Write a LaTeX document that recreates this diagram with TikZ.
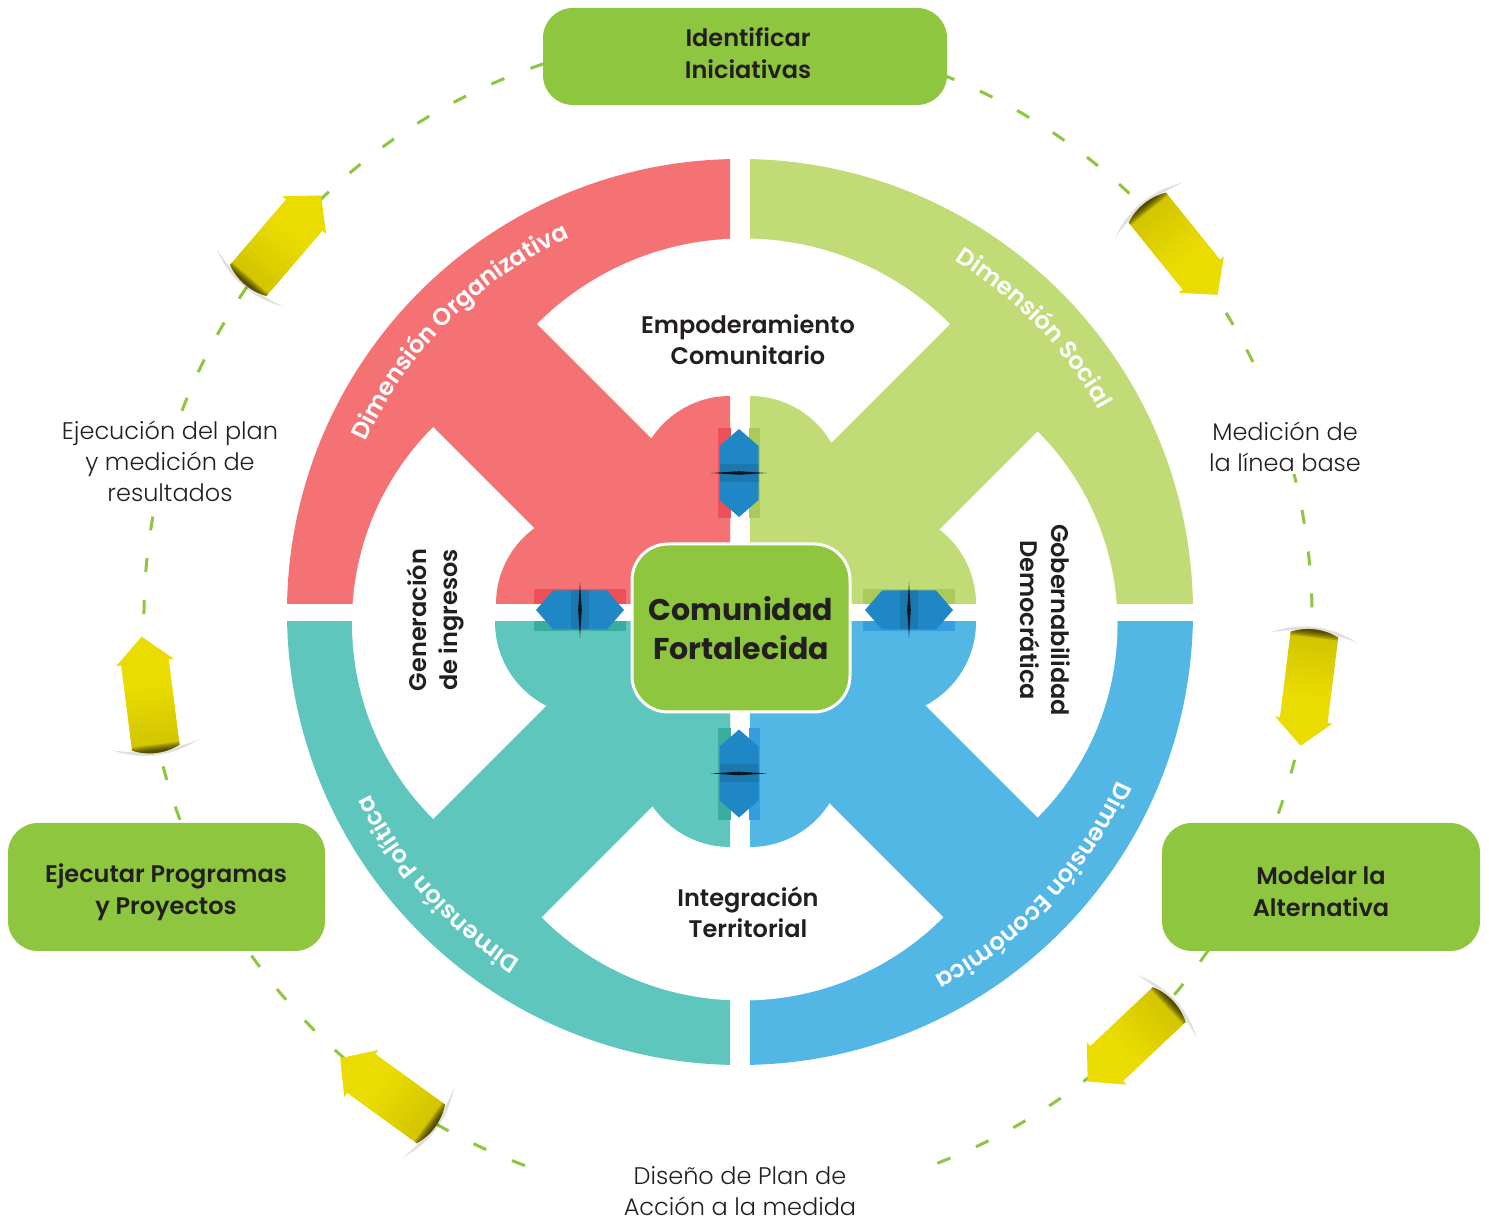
\documentclass[tikz,border=0pt]{standalone}
\usepackage{fontspec}
\setmainfont{Poppins}
\IfFontExistsTF{Poppins Light}{\newfontfamily\lightfont{Poppins Light}}{\newfontfamily\lightfont{Poppins}}
\IfFontExistsTF{Poppins SemiBold}{\newfontfamily\semifont{Poppins SemiBold}}{\newcommand\semifont{\bfseries}}
\usetikzlibrary{decorations.text}
\definecolor{cred}{RGB}{244,114,116}
\definecolor{cgrl}{RGB}{193,219,118}
\definecolor{cteal}{RGB}{95,198,190}
\definecolor{cblue}{RGB}{83,183,230}
\definecolor{cbox}{RGB}{143,198,63}
\definecolor{cyel}{RGB}{234,220,0}
\definecolor{cdarr}{RGB}{31,135,197}
\definecolor{ctext}{RGB}{35,31,32}
\definecolor{cdash}{RGB}{141,198,63}
\definecolor{ovred}{RGB}{238,80,90}
\definecolor{ovgrl}{RGB}{170,203,92}
\definecolor{ovteal}{RGB}{59,172,160}
\definecolor{ovblue}{RGB}{55,158,222}
\tikzset{
  dashring/.style={draw=cdash, line width=3pt, dash pattern=on 14pt off 28pt},
  gbox/.style={fill=cbox, rounded corners=30pt, text=ctext, align=center,
    font=\semifont\fontsize{24}{32}\selectfont},
  inlabel/.style={text=ctext, align=center, font=\semifont\fontsize{24}{31}\selectfont},
  outlabel/.style={text=ctext, align=center, fill=white, inner sep=2pt, font=\lightfont\fontsize{24}{31}\selectfont},
  ringtext/.style={decorate, decoration={text along path, text align=center, text color=white,
    text={|\semifont\fontsize{24}{24}\selectfont|#1}}}
}
\newcommand\yarrow[1]{%
\begin{scope}[shift={(728,606)}, rotate=#1, shift={(584,0)}, rotate=-90]
  \fill[black, opacity=0.12] (-53,-44) .. controls (-67,-15) and (-67,15) .. (-53,44)
     .. controls (-61,15) and (-61,-15) .. (-53,-44) -- cycle;
  \begin{scope}
    \clip (-56,-24) -- (30,-24) -- (30,-29) -- (56,0) -- (30,29) -- (30,24) -- (-56,24)
      .. controls (-63,8) and (-63,-8) .. (-56,-24) -- cycle;
    \fill[cyel] (-70,-40) rectangle (70,40);
    \foreach \k in {1,...,12} {\fill[black, opacity=0.008] (-70,-40) rectangle ({-56+\k*5},40);}
    \foreach \k in {1,...,5} {\fill[black, opacity=0.16] (-70,-40) rectangle ({-60+\k*1.4},40);}
  \end{scope}
\end{scope}}
\newcommand\dblarr[2]{%
\begin{scope}[shift={#1}, rotate=#2]
  \fill[cdarr] (-44,0) -- (-27,19.5) -- (27,19.5) -- (44,0) -- (27,-19.5) -- (-27,-19.5) -- cycle;
  \fill[black, opacity=0.10] (-9,-19.5) rectangle (9,19.5);
  \fill[black, opacity=0.8] (0,-28) -- (1.8,0) -- (0,28) -- (-1.8,0) -- cycle;
\end{scope}}
\begin{document}
\begin{tikzpicture}[x=1pt,y=1pt]
\useasboundingbox (0,0) rectangle (1489,1224);
\fill[white] (0,0) rectangle (1489,1224);
\coordinate (O) at (740,612);
\coordinate (C) at (728,606);

% dashed cycle ring
\draw[dashring] ([shift={(26:584)}]C) arc[start angle=26,end angle=160,radius=584];
\draw[dashring] ([shift={(170:584)}]C) arc[start angle=170,end angle=251,radius=584];
\draw[dashring] ([shift={(291:584)}]C) arc[start angle=291,end angle=375,radius=584];

% quarter discs
\begin{scope}
  \clip (280,620) rectangle (730,1070);
  \fill[cred] (O) circle (453);
\end{scope}
\begin{scope}
  \clip (750,620) rectangle (1200,1070);
  \fill[cgrl] (O) circle (453);
\end{scope}
\begin{scope}
  \clip (280,150) rectangle (730,602);
  \fill[cteal] (O) circle (453);
\end{scope}
\begin{scope}
  \clip (750,150) rectangle (1200,602);
  \fill[cblue] (O) circle (453);
\end{scope}

% white wedges between the arms
\fill[white] (743.5,693.5) -- ++(45:292) arc[start angle=45,end angle=135,radius=292] -- cycle;
\fill[white] (629,601) -- ++(135:277) arc[start angle=135,end angle=225,radius=277] -- cycle;
\fill[white] (844.5,599.5) -- ++(-45:273) arc[start angle=-45,end angle=45,radius=273] -- cycle;
\fill[white] (742.5,507.5) -- ++(225:284) arc[start angle=225,end angle=315,radius=284] -- cycle;

% lobes
\begin{scope}
  \clip (280,620) rectangle (730,1070);
  \fill[cred] (730,734) circle (94) (590,620) circle (94);
\end{scope}
\begin{scope}
  \clip (750,620) rectangle (1200,1070);
  \fill[cgrl] (750,734) circle (94) (882,620) circle (94);
\end{scope}
\begin{scope}
  \clip (280,150) rectangle (730,602);
  \fill[cteal] (589,602) circle (94) (730,471) circle (94);
\end{scope}
\begin{scope}
  \clip (750,150) rectangle (1200,602);
  \fill[cblue] (882,602) circle (94) (750,471) circle (94);
\end{scope}

% ring labels
\path[ringtext={Dimensión Organizativa}] ([shift={(180:411)}]O) arc[start angle=180,end angle=90,radius=411];
\path[ringtext={Dimensión Social}] ([shift={(89:412)}]O) arc[start angle=89,end angle=-1,radius=412];
\path[ringtext={Dimensión Económica}] ([shift={(2:413)}]O) arc[start angle=2,end angle=-88,radius=413];
\path[ringtext={Dimensión Política}] ([shift={(267:412)}]O) arc[start angle=267,end angle=177,radius=412];

% overlay bars behind double arrows
\fill[ovred] (718,706) rectangle (731,796);
\fill[ovgrl] (749,706) rectangle (760,796);
\fill[ovteal] (718,404) rectangle (731,496);
\fill[ovblue] (749,404) rectangle (760,496);
\fill[ovred] (534,620) rectangle (626,635);
\fill[ovteal] (534,593) rectangle (626,603);
\fill[ovgrl] (863,620) rectangle (955,635);
\fill[ovblue] (863,593) rectangle (955,603);

\dblarr{(739,751)}{90}
\dblarr{(739,450.5)}{90}
\dblarr{(580,614)}{0}
\dblarr{(909,614)}{0}

% centre
\node[fill=cbox, draw=white, line width=3pt, rounded corners=36pt, minimum width=218pt, minimum height=168pt,
  text=ctext, align=center, font=\bfseries\fontsize{30}{39}\selectfont] (core) at (741,596) {Comunidad\\Fortalecida};

% inner labels
\node[inlabel] (emp) at (748,884) {Empoderamiento\\Comunitario};
\node[inlabel] (integ) at (748,312) {Integración\\Territorial};
\node[inlabel, rotate=90] (gen) at (435,604) {Generación\\de ingresos};
\node[inlabel, rotate=-90] (gob) at (1045,604) {Gobernabilidad\\Democrática};

% step boxes
\node[gbox, minimum width=404pt, minimum height=97pt] (ident) at (745,1167.5) {};
\node[text=ctext, align=center, font=\semifont\fontsize{24}{32}\selectfont] (identt) at (748,1170.5) {Identificar\\Iniciativas};
\node[gbox, minimum width=317pt, minimum height=128pt] (ejec) at (166.5,337) {};
\node[text=ctext, align=center, font=\semifont\fontsize{24}{32}\selectfont] (eject) at (166,332) {Ejecutar Programas\\y Proyectos};
\node[gbox, minimum width=318pt, minimum height=128pt] (model) at (1321,337) {};
\node[text=ctext, align=center, font=\semifont\fontsize{24}{32}\selectfont] (modelt) at (1321,332) {Modelar la\\Alternativa};

% step labels
\node[outlabel] (medic) at (1285,777) {Medición de\\la línea base};
\node[outlabel] (disen) at (740,33) {Diseño de Plan de\\Acción a la medida};
\node[outlabel] (ejres) at (170,763) {Ejecución del plan\\y medición de\\resultados};

% cycle arrows
\yarrow{139.4}
\yarrow{38.9}
\yarrow{-7.1}
\yarrow{-46.7}
\yarrow{234.1}
\yarrow{187.3}
\end{tikzpicture}
\end{document}
